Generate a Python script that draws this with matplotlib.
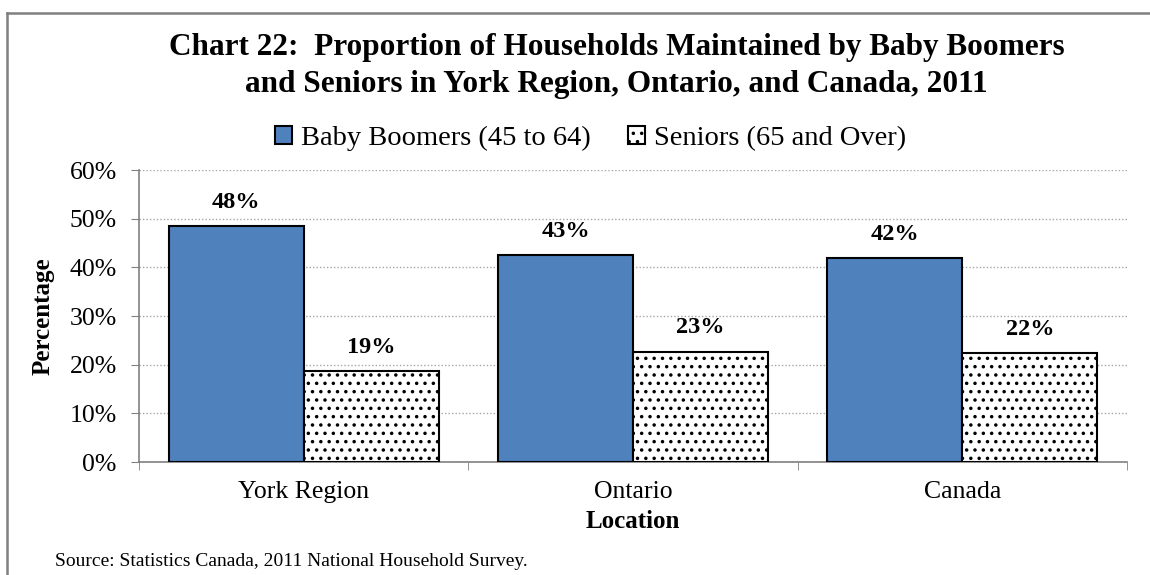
import matplotlib
matplotlib.use('Agg')
import matplotlib.pyplot as plt
from matplotlib.lines import Line2D
from matplotlib.ticker import PercentFormatter
import numpy as np

plt.rcParams['font.family'] = ['Liberation Serif', 'DejaVu Serif']
plt.rcParams['hatch.linewidth'] = 1.3

# data
locations = ['York Region', 'Ontario', 'Canada']
boomers = [48.4, 42.6, 42.0]
seniors = [18.7, 22.7, 22.3]
boomer_labels = ['48%', '43%', '42%']
senior_labels = ['19%', '23%', '22%']

fig = plt.figure(figsize=(11.5, 5.75), dpi=100)
ax = fig.add_axes([0.1209, 0.1965, 0.8591, 0.5078])

x = np.arange(len(locations))
w = 0.41
b1 = ax.bar(x - w / 2, boomers, w, color='#4f81bd', edgecolor='black', linewidth=1.5,
            label='Baby Boomers (45 to 64)', zorder=3)
b2 = ax.bar(x + w / 2, seniors, w, color='white', edgecolor='black', linewidth=1.5,
            hatch='..', label='Seniors (65 and Over)', zorder=3)

# value labels above bars
for bars, labs in [(b1, boomer_labels), (b2, senior_labels)]:
    for r, t in zip(bars, labs):
        ax.annotate(t, (r.get_x() + r.get_width() / 2, r.get_height()),
                    xytext=(0, 13), textcoords='offset points', ha='center', va='baseline',
                    fontsize=17.5, fontweight='bold')

ax.set_ylim(0, 60)
ax.set_xlim(-0.5, 2.5)
ax.yaxis.set_major_formatter(PercentFormatter(decimals=0))
ax.set_yticks(range(0, 61, 10))
ax.grid(axis='y', linestyle=(0, (1, 1.5)), color='#a6a6a6', linewidth=1, zorder=0)
ax.set_xticks(x)
ax.set_xticklabels(locations)
ax.set_xticks([-0.5, 0.5, 1.5, 2.5], minor=True)
ax.tick_params(axis='x', which='major', length=0, pad=14, labelsize=18.5)
ax.tick_params(axis='x', which='minor', length=6, color='#808080', direction='out')
ax.tick_params(axis='y', length=6, color='#808080', labelsize=18.5, pad=10)
for s in ['top', 'right']:
    ax.spines[s].set_visible(False)
for s in ['left', 'bottom']:
    ax.spines[s].set_color('#808080')
    ax.spines[s].set_linewidth(1.2)

ax.set_xlabel('Location', fontsize=18, fontweight='bold', labelpad=5)
ax.set_ylabel('Percentage', fontsize=18, fontweight='bold', labelpad=11)

# title
fig.text(0.536, 1 - 55 / 575, 'Chart 22:  Proportion of Households Maintained by Baby Boomers',
         ha='center', va='baseline', fontsize=22.5, fontweight='bold')
fig.text(0.536, 1 - 92 / 575, 'and Seniors in York Region, Ontario, and Canada, 2011',
         ha='center', va='baseline', fontsize=22.5, fontweight='bold')

ax.legend(loc='lower center', bbox_to_anchor=(0.457, 1.005), ncol=2, frameon=False,
          fontsize=20.5, handlelength=0.6, handleheight=0.6, handletextpad=0.32,
          columnspacing=1.3, borderaxespad=0.2)

fig.text(0.048, 1 - 566 / 575, 'Source: Statistics Canada, 2011 National Household Survey.',
         fontsize=14, ha='left', va='baseline')

# outer frame (only top and left visible)
fig.add_artist(Line2D([7 / 1150, 7 / 1150], [0, 1 - 13 / 575], transform=fig.transFigure,
                      color='#808080', linewidth=1.8))
fig.add_artist(Line2D([7 / 1150, 1], [1 - 13 / 575, 1 - 13 / 575], transform=fig.transFigure,
                      color='#808080', linewidth=1.8))

fig.savefig('out.png', dpi=100)
